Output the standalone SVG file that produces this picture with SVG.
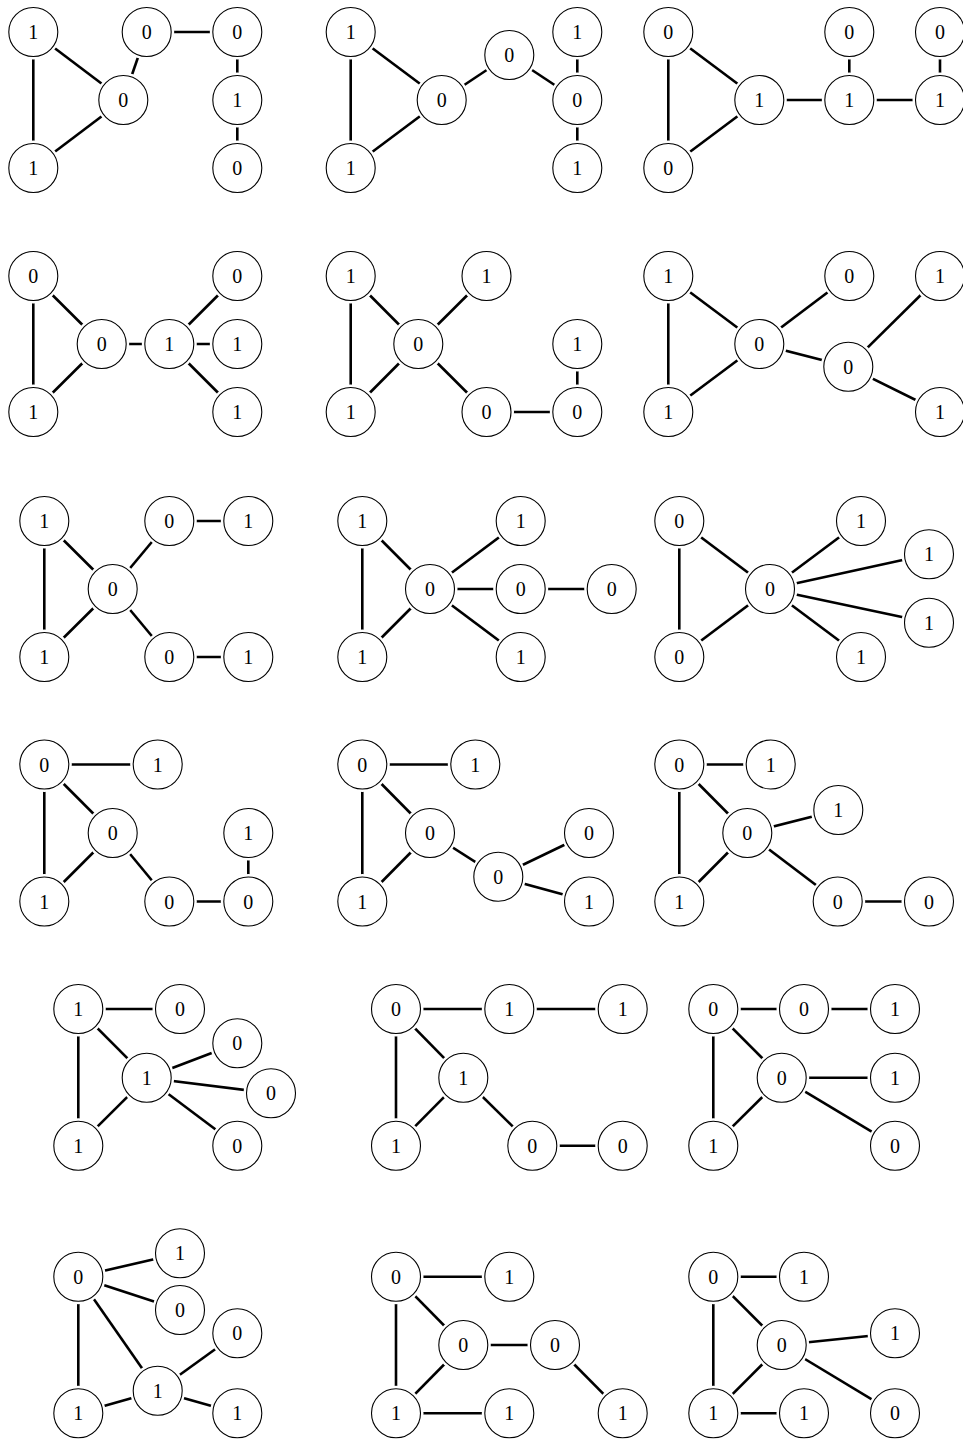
<svg xmlns="http://www.w3.org/2000/svg" xmlns:xlink="http://www.w3.org/1999/xlink" width="963" height="1439" viewBox="0 0 963 1439">
<style>
.e line{stroke:#000;stroke-width:2.6}
.h{fill:#fff}
.c{fill:#fff;stroke:#000;stroke-width:1.1}
text{font-family:"Liberation Serif","DejaVu Serif",serif;font-size:20px;text-anchor:middle;fill:#000}
</style>
<defs><g id="nd"><circle class="h" r="27.5"/><circle class="c" r="24.5"/></g></defs>
<rect width="963" height="1439" fill="#fff"/>
<g id="connectors" class="e">
<!-- G1 -->
<line x1="33.3" y1="32" x2="33.3" y2="168"/><line x1="33.3" y1="32" x2="123.3" y2="100"/><line x1="33.3" y1="168" x2="123.3" y2="100"/><line x1="123.3" y1="100" x2="146.7" y2="32"/><line x1="146.7" y1="32" x2="237.3" y2="32"/><line x1="237.3" y1="32" x2="237.3" y2="100"/><line x1="237.3" y1="100" x2="237.3" y2="168"/>
<!-- G2 -->
<line x1="350.7" y1="32" x2="350.7" y2="168"/><line x1="350.7" y1="32" x2="441.7" y2="100"/><line x1="350.7" y1="168" x2="441.7" y2="100"/><line x1="441.7" y1="100" x2="509.3" y2="55"/><line x1="509.3" y1="55" x2="577.3" y2="100"/><line x1="577.3" y1="32" x2="577.3" y2="100"/><line x1="577.3" y1="100" x2="577.3" y2="168"/>
<!-- G3 -->
<line x1="668.3" y1="32" x2="668.3" y2="168"/><line x1="668.3" y1="32" x2="759.3" y2="100"/><line x1="668.3" y1="168" x2="759.3" y2="100"/><line x1="759.3" y1="100" x2="849.3" y2="100"/><line x1="849.3" y1="32" x2="849.3" y2="100"/><line x1="849.3" y1="100" x2="940" y2="100"/><line x1="940" y1="32" x2="940" y2="100"/>
<!-- G4 -->
<line x1="33.3" y1="276" x2="33.3" y2="412"/><line x1="33.3" y1="276" x2="101.7" y2="344"/><line x1="33.3" y1="412" x2="101.7" y2="344"/><line x1="101.7" y1="344" x2="169.3" y2="344"/><line x1="169.3" y1="344" x2="237.3" y2="276"/><line x1="169.3" y1="344" x2="237.3" y2="344"/><line x1="169.3" y1="344" x2="237.3" y2="412"/>
<!-- G5 -->
<line x1="350.7" y1="276" x2="350.7" y2="412"/><line x1="350.7" y1="276" x2="418.3" y2="344"/><line x1="350.7" y1="412" x2="418.3" y2="344"/><line x1="418.3" y1="344" x2="486.5" y2="276"/><line x1="418.3" y1="344" x2="486.5" y2="412"/><line x1="486.5" y1="412" x2="577.3" y2="412"/><line x1="577.3" y1="344" x2="577.3" y2="412"/>
<!-- G6 -->
<line x1="668.3" y1="276" x2="668.3" y2="412"/><line x1="668.3" y1="276" x2="759.3" y2="344"/><line x1="668.3" y1="412" x2="759.3" y2="344"/><line x1="759.3" y1="344" x2="849.3" y2="276"/><line x1="759.3" y1="344" x2="848.3" y2="366.7"/><line x1="848.3" y1="366.7" x2="940" y2="276"/><line x1="848.3" y1="366.7" x2="940" y2="412"/>
<!-- G7 -->
<line x1="44.3" y1="521" x2="44.3" y2="657"/><line x1="44.3" y1="521" x2="112.7" y2="589"/><line x1="44.3" y1="657" x2="112.7" y2="589"/><line x1="112.7" y1="589" x2="169.3" y2="521"/><line x1="169.3" y1="521" x2="248.3" y2="521"/><line x1="112.7" y1="589" x2="169.3" y2="657"/><line x1="169.3" y1="657" x2="248.3" y2="657"/>
<!-- G8 -->
<line x1="362.3" y1="521" x2="362.3" y2="657"/><line x1="362.3" y1="521" x2="430" y2="589"/><line x1="362.3" y1="657" x2="430" y2="589"/><line x1="430" y1="589" x2="520.7" y2="521"/><line x1="430" y1="589" x2="520.7" y2="589"/><line x1="520.7" y1="589" x2="611.7" y2="589"/><line x1="430" y1="589" x2="520.7" y2="657"/>
<!-- G9 -->
<line x1="679.3" y1="521" x2="679.3" y2="657"/><line x1="679.3" y1="521" x2="770" y2="589"/><line x1="679.3" y1="657" x2="770" y2="589"/><line x1="770" y1="589" x2="861" y2="521"/><line x1="770" y1="589" x2="929" y2="554.3"/><line x1="770" y1="589" x2="929" y2="622.7"/><line x1="770" y1="589" x2="861" y2="657"/>
<!-- G10 -->
<line x1="44.3" y1="764.5" x2="44.3" y2="901.5"/><line x1="44.3" y1="764.5" x2="112.7" y2="833"/><line x1="44.3" y1="901.5" x2="112.7" y2="833"/><line x1="44.3" y1="764.5" x2="157.7" y2="764.5"/><line x1="112.7" y1="833" x2="169.3" y2="901.5"/><line x1="169.3" y1="901.5" x2="248.3" y2="901.5"/><line x1="248.3" y1="833" x2="248.3" y2="901.5"/>
<!-- G11 -->
<line x1="362.3" y1="764.5" x2="362.3" y2="901.5"/><line x1="362.3" y1="764.5" x2="430" y2="833"/><line x1="362.3" y1="901.5" x2="430" y2="833"/><line x1="362.3" y1="764.5" x2="475.3" y2="764.5"/><line x1="430" y1="833" x2="498.3" y2="876.7"/><line x1="498.3" y1="876.7" x2="589" y2="833"/><line x1="498.3" y1="876.7" x2="589" y2="901.5"/>
<!-- G12 -->
<line x1="679.3" y1="764.5" x2="679.3" y2="901.5"/><line x1="679.3" y1="764.5" x2="747.3" y2="833"/><line x1="679.3" y1="901.5" x2="747.3" y2="833"/><line x1="679.3" y1="764.5" x2="770.7" y2="764.5"/><line x1="747.3" y1="833" x2="838.3" y2="810"/><line x1="747.3" y1="833" x2="837.7" y2="901.5"/><line x1="837.7" y1="901.5" x2="929" y2="901.5"/>
<!-- G13 -->
<line x1="78.3" y1="1009" x2="78.3" y2="1145.7"/><line x1="78.3" y1="1009" x2="146.7" y2="1077.7"/><line x1="78.3" y1="1145.7" x2="146.7" y2="1077.7"/><line x1="78.3" y1="1009" x2="180" y2="1009"/><line x1="146.7" y1="1077.7" x2="237.3" y2="1043.3"/><line x1="146.7" y1="1077.7" x2="271" y2="1093.3"/><line x1="146.7" y1="1077.7" x2="237.3" y2="1145.7"/>
<!-- G14 -->
<line x1="396" y1="1009" x2="396" y2="1145.7"/><line x1="396" y1="1009" x2="463.3" y2="1077.7"/><line x1="396" y1="1145.7" x2="463.3" y2="1077.7"/><line x1="396" y1="1009" x2="509.3" y2="1009"/><line x1="509.3" y1="1009" x2="622.7" y2="1009"/><line x1="463.3" y1="1077.7" x2="532.3" y2="1145.7"/><line x1="532.3" y1="1145.7" x2="622.7" y2="1145.7"/>
<!-- G15 -->
<line x1="713.3" y1="1009" x2="713.3" y2="1145.7"/><line x1="713.3" y1="1009" x2="781.7" y2="1077.7"/><line x1="713.3" y1="1145.7" x2="781.7" y2="1077.7"/><line x1="713.3" y1="1009" x2="804" y2="1009"/><line x1="804" y1="1009" x2="895" y2="1009"/><line x1="781.7" y1="1077.7" x2="895" y2="1077.7"/><line x1="781.7" y1="1077.7" x2="895" y2="1145.7"/>
<!-- G16 -->
<line x1="78.3" y1="1276.7" x2="78.3" y2="1413.3"/><line x1="78.3" y1="1276.7" x2="180" y2="1253.3"/><line x1="78.3" y1="1276.7" x2="180" y2="1310"/><line x1="78.3" y1="1276.7" x2="157.7" y2="1390.7"/><line x1="78.3" y1="1413.3" x2="157.7" y2="1390.7"/><line x1="157.7" y1="1390.7" x2="237.3" y2="1333.3"/><line x1="157.7" y1="1390.7" x2="237.3" y2="1413.3"/>
<!-- G17 -->
<line x1="396" y1="1276.7" x2="396" y2="1413.3"/><line x1="396" y1="1276.7" x2="463.3" y2="1345"/><line x1="396" y1="1413.3" x2="463.3" y2="1345"/><line x1="396" y1="1276.7" x2="509.3" y2="1276.7"/><line x1="463.3" y1="1345" x2="555" y2="1345"/><line x1="555" y1="1345" x2="622.7" y2="1413.3"/><line x1="396" y1="1413.3" x2="509.3" y2="1413.3"/>
<!-- G18 -->
<line x1="713.3" y1="1276.7" x2="713.3" y2="1413.3"/><line x1="713.3" y1="1276.7" x2="781.7" y2="1345"/><line x1="713.3" y1="1413.3" x2="781.7" y2="1345"/><line x1="713.3" y1="1276.7" x2="804" y2="1276.7"/><line x1="781.7" y1="1345" x2="895" y2="1333.3"/><line x1="781.7" y1="1345" x2="895" y2="1413.3"/><line x1="713.3" y1="1413.3" x2="804" y2="1413.3"/>
</g>
<g id="g1">
<g id="g1n1" transform="translate(33.3,32)"><use xlink:href="#nd"/><text y="7">1</text></g>
<g id="g1n2" transform="translate(33.3,168)"><use xlink:href="#nd"/><text y="7">1</text></g>
<g id="g1n3" transform="translate(123.3,100)"><use xlink:href="#nd"/><text y="7">0</text></g>
<g id="g1n4" transform="translate(146.7,32)"><use xlink:href="#nd"/><text y="7">0</text></g>
<g id="g1n5" transform="translate(237.3,32)"><use xlink:href="#nd"/><text y="7">0</text></g>
<g id="g1n6" transform="translate(237.3,100)"><use xlink:href="#nd"/><text y="7">1</text></g>
<g id="g1n7" transform="translate(237.3,168)"><use xlink:href="#nd"/><text y="7">0</text></g>
</g>
<g id="g2">
<g id="g2n1" transform="translate(350.7,32)"><use xlink:href="#nd"/><text y="7">1</text></g>
<g id="g2n2" transform="translate(350.7,168)"><use xlink:href="#nd"/><text y="7">1</text></g>
<g id="g2n3" transform="translate(441.7,100)"><use xlink:href="#nd"/><text y="7">0</text></g>
<g id="g2n4" transform="translate(509.3,55)"><use xlink:href="#nd"/><text y="7">0</text></g>
<g id="g2n5" transform="translate(577.3,32)"><use xlink:href="#nd"/><text y="7">1</text></g>
<g id="g2n6" transform="translate(577.3,100)"><use xlink:href="#nd"/><text y="7">0</text></g>
<g id="g2n7" transform="translate(577.3,168)"><use xlink:href="#nd"/><text y="7">1</text></g>
</g>
<g id="g3">
<g id="g3n1" transform="translate(668.3,32)"><use xlink:href="#nd"/><text y="7">0</text></g>
<g id="g3n2" transform="translate(668.3,168)"><use xlink:href="#nd"/><text y="7">0</text></g>
<g id="g3n3" transform="translate(759.3,100)"><use xlink:href="#nd"/><text y="7">1</text></g>
<g id="g3n4" transform="translate(849.3,32)"><use xlink:href="#nd"/><text y="7">0</text></g>
<g id="g3n5" transform="translate(849.3,100)"><use xlink:href="#nd"/><text y="7">1</text></g>
<g id="g3n6" transform="translate(940,32)"><use xlink:href="#nd"/><text y="7">0</text></g>
<g id="g3n7" transform="translate(940,100)"><use xlink:href="#nd"/><text y="7">1</text></g>
</g>
<g id="g4">
<g id="g4n1" transform="translate(33.3,276)"><use xlink:href="#nd"/><text y="7">0</text></g>
<g id="g4n2" transform="translate(33.3,412)"><use xlink:href="#nd"/><text y="7">1</text></g>
<g id="g4n3" transform="translate(101.7,344)"><use xlink:href="#nd"/><text y="7">0</text></g>
<g id="g4n4" transform="translate(169.3,344)"><use xlink:href="#nd"/><text y="7">1</text></g>
<g id="g4n5" transform="translate(237.3,276)"><use xlink:href="#nd"/><text y="7">0</text></g>
<g id="g4n6" transform="translate(237.3,344)"><use xlink:href="#nd"/><text y="7">1</text></g>
<g id="g4n7" transform="translate(237.3,412)"><use xlink:href="#nd"/><text y="7">1</text></g>
</g>
<g id="g5">
<g id="g5n1" transform="translate(350.7,276)"><use xlink:href="#nd"/><text y="7">1</text></g>
<g id="g5n2" transform="translate(350.7,412)"><use xlink:href="#nd"/><text y="7">1</text></g>
<g id="g5n3" transform="translate(418.3,344)"><use xlink:href="#nd"/><text y="7">0</text></g>
<g id="g5n4" transform="translate(486.5,276)"><use xlink:href="#nd"/><text y="7">1</text></g>
<g id="g5n5" transform="translate(486.5,412)"><use xlink:href="#nd"/><text y="7">0</text></g>
<g id="g5n6" transform="translate(577.3,344)"><use xlink:href="#nd"/><text y="7">1</text></g>
<g id="g5n7" transform="translate(577.3,412)"><use xlink:href="#nd"/><text y="7">0</text></g>
</g>
<g id="g6">
<g id="g6n1" transform="translate(668.3,276)"><use xlink:href="#nd"/><text y="7">1</text></g>
<g id="g6n2" transform="translate(668.3,412)"><use xlink:href="#nd"/><text y="7">1</text></g>
<g id="g6n3" transform="translate(759.3,344)"><use xlink:href="#nd"/><text y="7">0</text></g>
<g id="g6n4" transform="translate(849.3,276)"><use xlink:href="#nd"/><text y="7">0</text></g>
<g id="g6n5" transform="translate(848.3,366.7)"><use xlink:href="#nd"/><text y="7">0</text></g>
<g id="g6n6" transform="translate(940,276)"><use xlink:href="#nd"/><text y="7">1</text></g>
<g id="g6n7" transform="translate(940,412)"><use xlink:href="#nd"/><text y="7">1</text></g>
</g>
<g id="g7">
<g id="g7n1" transform="translate(44.3,521)"><use xlink:href="#nd"/><text y="7">1</text></g>
<g id="g7n2" transform="translate(44.3,657)"><use xlink:href="#nd"/><text y="7">1</text></g>
<g id="g7n3" transform="translate(112.7,589)"><use xlink:href="#nd"/><text y="7">0</text></g>
<g id="g7n4" transform="translate(169.3,521)"><use xlink:href="#nd"/><text y="7">0</text></g>
<g id="g7n5" transform="translate(248.3,521)"><use xlink:href="#nd"/><text y="7">1</text></g>
<g id="g7n6" transform="translate(169.3,657)"><use xlink:href="#nd"/><text y="7">0</text></g>
<g id="g7n7" transform="translate(248.3,657)"><use xlink:href="#nd"/><text y="7">1</text></g>
</g>
<g id="g8">
<g id="g8n1" transform="translate(362.3,521)"><use xlink:href="#nd"/><text y="7">1</text></g>
<g id="g8n2" transform="translate(362.3,657)"><use xlink:href="#nd"/><text y="7">1</text></g>
<g id="g8n3" transform="translate(430,589)"><use xlink:href="#nd"/><text y="7">0</text></g>
<g id="g8n4" transform="translate(520.7,521)"><use xlink:href="#nd"/><text y="7">1</text></g>
<g id="g8n5" transform="translate(520.7,589)"><use xlink:href="#nd"/><text y="7">0</text></g>
<g id="g8n6" transform="translate(611.7,589)"><use xlink:href="#nd"/><text y="7">0</text></g>
<g id="g8n7" transform="translate(520.7,657)"><use xlink:href="#nd"/><text y="7">1</text></g>
</g>
<g id="g9">
<g id="g9n1" transform="translate(679.3,521)"><use xlink:href="#nd"/><text y="7">0</text></g>
<g id="g9n2" transform="translate(679.3,657)"><use xlink:href="#nd"/><text y="7">0</text></g>
<g id="g9n3" transform="translate(770,589)"><use xlink:href="#nd"/><text y="7">0</text></g>
<g id="g9n4" transform="translate(861,521)"><use xlink:href="#nd"/><text y="7">1</text></g>
<g id="g9n5" transform="translate(929,554.3)"><use xlink:href="#nd"/><text y="7">1</text></g>
<g id="g9n6" transform="translate(929,622.7)"><use xlink:href="#nd"/><text y="7">1</text></g>
<g id="g9n7" transform="translate(861,657)"><use xlink:href="#nd"/><text y="7">1</text></g>
</g>
<g id="g10">
<g id="g10n1" transform="translate(44.3,764.5)"><use xlink:href="#nd"/><text y="7">0</text></g>
<g id="g10n2" transform="translate(44.3,901.5)"><use xlink:href="#nd"/><text y="7">1</text></g>
<g id="g10n3" transform="translate(112.7,833)"><use xlink:href="#nd"/><text y="7">0</text></g>
<g id="g10n4" transform="translate(157.7,764.5)"><use xlink:href="#nd"/><text y="7">1</text></g>
<g id="g10n5" transform="translate(169.3,901.5)"><use xlink:href="#nd"/><text y="7">0</text></g>
<g id="g10n6" transform="translate(248.3,833)"><use xlink:href="#nd"/><text y="7">1</text></g>
<g id="g10n7" transform="translate(248.3,901.5)"><use xlink:href="#nd"/><text y="7">0</text></g>
</g>
<g id="g11">
<g id="g11n1" transform="translate(362.3,764.5)"><use xlink:href="#nd"/><text y="7">0</text></g>
<g id="g11n2" transform="translate(362.3,901.5)"><use xlink:href="#nd"/><text y="7">1</text></g>
<g id="g11n3" transform="translate(430,833)"><use xlink:href="#nd"/><text y="7">0</text></g>
<g id="g11n4" transform="translate(475.3,764.5)"><use xlink:href="#nd"/><text y="7">1</text></g>
<g id="g11n5" transform="translate(498.3,876.7)"><use xlink:href="#nd"/><text y="7">0</text></g>
<g id="g11n6" transform="translate(589,833)"><use xlink:href="#nd"/><text y="7">0</text></g>
<g id="g11n7" transform="translate(589,901.5)"><use xlink:href="#nd"/><text y="7">1</text></g>
</g>
<g id="g12">
<g id="g12n1" transform="translate(679.3,764.5)"><use xlink:href="#nd"/><text y="7">0</text></g>
<g id="g12n2" transform="translate(679.3,901.5)"><use xlink:href="#nd"/><text y="7">1</text></g>
<g id="g12n3" transform="translate(747.3,833)"><use xlink:href="#nd"/><text y="7">0</text></g>
<g id="g12n4" transform="translate(770.7,764.5)"><use xlink:href="#nd"/><text y="7">1</text></g>
<g id="g12n5" transform="translate(838.3,810)"><use xlink:href="#nd"/><text y="7">1</text></g>
<g id="g12n6" transform="translate(837.7,901.5)"><use xlink:href="#nd"/><text y="7">0</text></g>
<g id="g12n7" transform="translate(929,901.5)"><use xlink:href="#nd"/><text y="7">0</text></g>
</g>
<g id="g13">
<g id="g13n1" transform="translate(78.3,1009)"><use xlink:href="#nd"/><text y="7">1</text></g>
<g id="g13n2" transform="translate(78.3,1145.7)"><use xlink:href="#nd"/><text y="7">1</text></g>
<g id="g13n3" transform="translate(146.7,1077.7)"><use xlink:href="#nd"/><text y="7">1</text></g>
<g id="g13n4" transform="translate(180,1009)"><use xlink:href="#nd"/><text y="7">0</text></g>
<g id="g13n5" transform="translate(237.3,1043.3)"><use xlink:href="#nd"/><text y="7">0</text></g>
<g id="g13n6" transform="translate(271,1093.3)"><use xlink:href="#nd"/><text y="7">0</text></g>
<g id="g13n7" transform="translate(237.3,1145.7)"><use xlink:href="#nd"/><text y="7">0</text></g>
</g>
<g id="g14">
<g id="g14n1" transform="translate(396,1009)"><use xlink:href="#nd"/><text y="7">0</text></g>
<g id="g14n2" transform="translate(396,1145.7)"><use xlink:href="#nd"/><text y="7">1</text></g>
<g id="g14n3" transform="translate(463.3,1077.7)"><use xlink:href="#nd"/><text y="7">1</text></g>
<g id="g14n4" transform="translate(509.3,1009)"><use xlink:href="#nd"/><text y="7">1</text></g>
<g id="g14n5" transform="translate(622.7,1009)"><use xlink:href="#nd"/><text y="7">1</text></g>
<g id="g14n6" transform="translate(532.3,1145.7)"><use xlink:href="#nd"/><text y="7">0</text></g>
<g id="g14n7" transform="translate(622.7,1145.7)"><use xlink:href="#nd"/><text y="7">0</text></g>
</g>
<g id="g15">
<g id="g15n1" transform="translate(713.3,1009)"><use xlink:href="#nd"/><text y="7">0</text></g>
<g id="g15n2" transform="translate(713.3,1145.7)"><use xlink:href="#nd"/><text y="7">1</text></g>
<g id="g15n3" transform="translate(781.7,1077.7)"><use xlink:href="#nd"/><text y="7">0</text></g>
<g id="g15n4" transform="translate(804,1009)"><use xlink:href="#nd"/><text y="7">0</text></g>
<g id="g15n5" transform="translate(895,1009)"><use xlink:href="#nd"/><text y="7">1</text></g>
<g id="g15n6" transform="translate(895,1077.7)"><use xlink:href="#nd"/><text y="7">1</text></g>
<g id="g15n7" transform="translate(895,1145.7)"><use xlink:href="#nd"/><text y="7">0</text></g>
</g>
<g id="g16">
<g id="g16n1" transform="translate(78.3,1276.7)"><use xlink:href="#nd"/><text y="7">0</text></g>
<g id="g16n2" transform="translate(78.3,1413.3)"><use xlink:href="#nd"/><text y="7">1</text></g>
<g id="g16n3" transform="translate(157.7,1390.7)"><use xlink:href="#nd"/><text y="7">1</text></g>
<g id="g16n4" transform="translate(180,1253.3)"><use xlink:href="#nd"/><text y="7">1</text></g>
<g id="g16n5" transform="translate(180,1310)"><use xlink:href="#nd"/><text y="7">0</text></g>
<g id="g16n6" transform="translate(237.3,1333.3)"><use xlink:href="#nd"/><text y="7">0</text></g>
<g id="g16n7" transform="translate(237.3,1413.3)"><use xlink:href="#nd"/><text y="7">1</text></g>
</g>
<g id="g17">
<g id="g17n1" transform="translate(396,1276.7)"><use xlink:href="#nd"/><text y="7">0</text></g>
<g id="g17n2" transform="translate(396,1413.3)"><use xlink:href="#nd"/><text y="7">1</text></g>
<g id="g17n3" transform="translate(463.3,1345)"><use xlink:href="#nd"/><text y="7">0</text></g>
<g id="g17n4" transform="translate(509.3,1276.7)"><use xlink:href="#nd"/><text y="7">1</text></g>
<g id="g17n5" transform="translate(555,1345)"><use xlink:href="#nd"/><text y="7">0</text></g>
<g id="g17n6" transform="translate(509.3,1413.3)"><use xlink:href="#nd"/><text y="7">1</text></g>
<g id="g17n7" transform="translate(622.7,1413.3)"><use xlink:href="#nd"/><text y="7">1</text></g>
</g>
<g id="g18">
<g id="g18n1" transform="translate(713.3,1276.7)"><use xlink:href="#nd"/><text y="7">0</text></g>
<g id="g18n2" transform="translate(713.3,1413.3)"><use xlink:href="#nd"/><text y="7">1</text></g>
<g id="g18n3" transform="translate(781.7,1345)"><use xlink:href="#nd"/><text y="7">0</text></g>
<g id="g18n4" transform="translate(804,1276.7)"><use xlink:href="#nd"/><text y="7">1</text></g>
<g id="g18n5" transform="translate(895,1333.3)"><use xlink:href="#nd"/><text y="7">1</text></g>
<g id="g18n6" transform="translate(895,1413.3)"><use xlink:href="#nd"/><text y="7">0</text></g>
<g id="g18n7" transform="translate(804,1413.3)"><use xlink:href="#nd"/><text y="7">1</text></g>
</g>
</svg>
